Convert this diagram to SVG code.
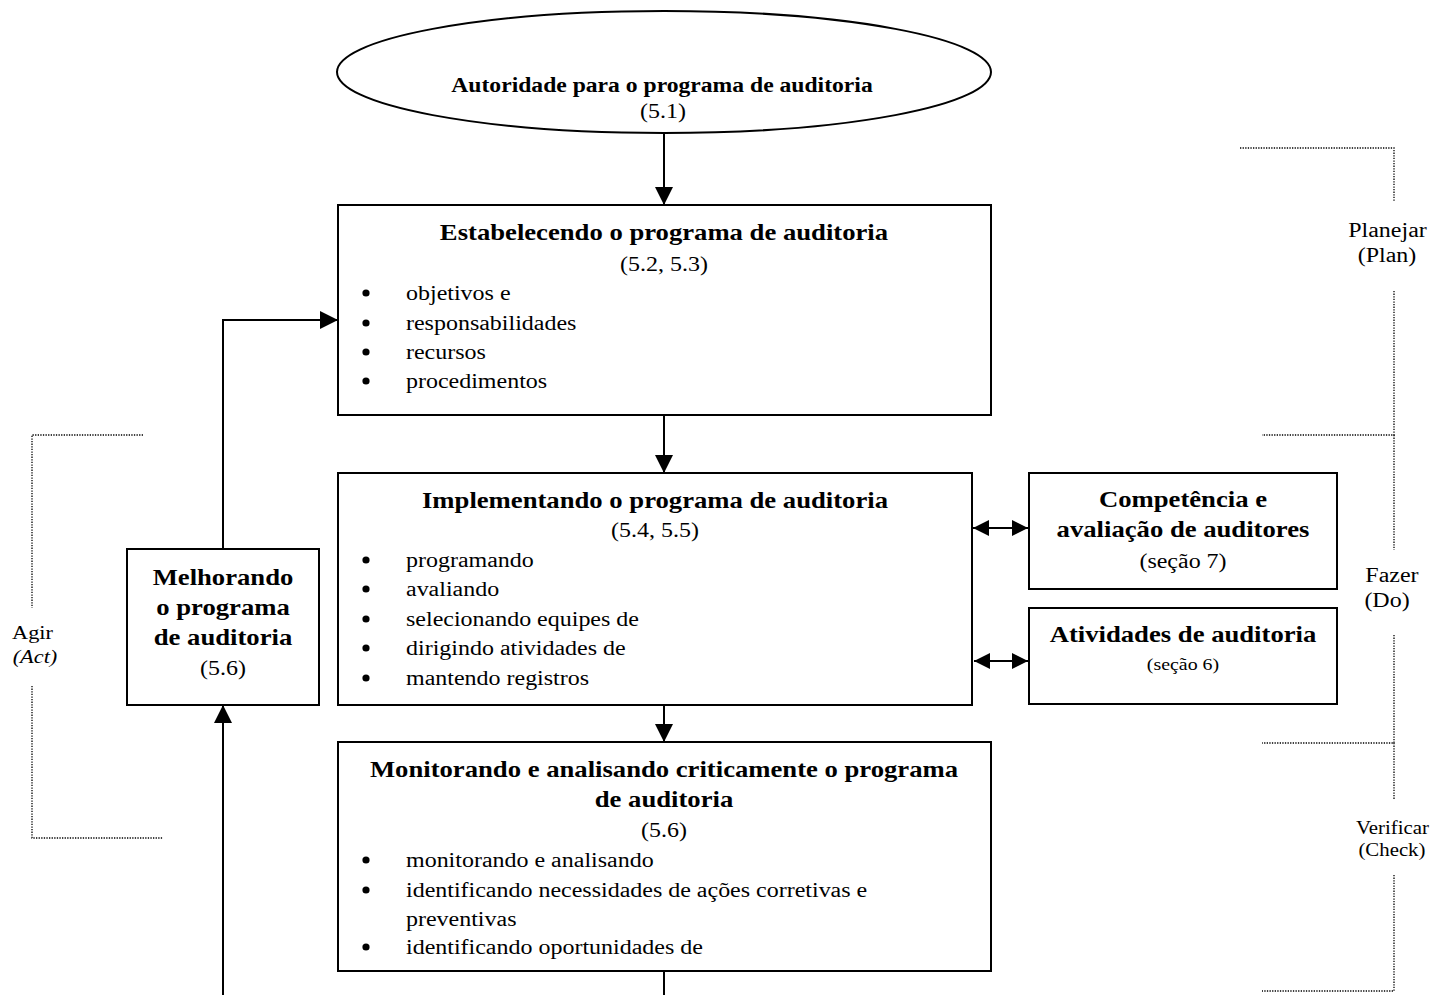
<svg xmlns="http://www.w3.org/2000/svg" width="1431" height="995" viewBox="0 0 1431 995">
<defs>
<style>
text{font-family:"Liberation Serif","Times New Roman",serif;fill:#000}
.t{font-size:22.8px;font-weight:bold;text-anchor:middle}
.s{font-size:20.5px;text-anchor:middle}
.b{font-size:20.5px}
.box{fill:#fff;stroke:#000;stroke-width:2}
.ln{fill:none;stroke:#000;stroke-width:2}
.dot{fill:none;stroke:#000;stroke-width:1.3;stroke-dasharray:1.3 1.3}
.lab{font-size:20.5px;text-anchor:middle}
.bu{fill:#000}
</style>
<marker id="big" viewBox="0 0 10 10" refX="10" refY="5" markerWidth="20" markerHeight="18" markerUnits="userSpaceOnUse" orient="auto-start-reverse"><path d="M0,0 L10,5 L0,10 Z" fill="#000"/></marker>
<marker id="dbl" viewBox="0 0 10 10" refX="10" refY="5" markerWidth="16" markerHeight="18" markerUnits="userSpaceOnUse" orient="auto-start-reverse"><path d="M0,0 L10,5 L0,10 Z" fill="#000"/></marker>
</defs>
<rect width="1431" height="995" fill="#fff"/>

<g id="connectors">
<line class="ln" x1="664" y1="133" x2="664" y2="205" marker-end="url(#big)"/>
<line class="ln" x1="664" y1="415" x2="664" y2="473" marker-end="url(#big)"/>
<line class="ln" x1="664" y1="705" x2="664" y2="742" marker-end="url(#big)"/>
<line class="ln" x1="664" y1="971" x2="664" y2="995"/>
<polyline class="ln" points="223,549 223,320 338,320" marker-end="url(#big)"/>
<line class="ln" x1="223" y1="995" x2="223" y2="705" marker-end="url(#big)"/>
<line class="ln" x1="973" y1="528" x2="1028" y2="528" marker-start="url(#dbl)" marker-end="url(#dbl)"/>
<line class="ln" x1="974" y1="661" x2="1028" y2="661" marker-start="url(#dbl)" marker-end="url(#dbl)"/>
</g>

<g id="authority">
<ellipse class="box" cx="664" cy="72" rx="327" ry="61"/>
<g transform="scale(1.17,1)">
<text x="565.81" y="92" style="font-size:20.2px;font-weight:bold;text-anchor:middle">Autoridade para o programa de auditoria</text>
<text x="566.67" y="118" class="s">(5.1)</text>
</g>
</g>

<g id="establish">
<rect class="box" x="338" y="205" width="653" height="210"/>
<g class="bu">
<circle cx="366" cy="293" r="3.6"/><circle cx="366" cy="323" r="3.6"/><circle cx="366" cy="352" r="3.6"/><circle cx="366" cy="381" r="3.6"/>
</g>
<g transform="scale(1.17,1)">
<text x="567.52" y="240" class="t">Estabelecendo o programa de auditoria</text>
<text x="567.52" y="271" class="s">(5.2, 5.3)</text>
<g class="b">
<text x="347.01" y="300">objetivos e</text>
<text x="347.01" y="330">responsabilidades</text>
<text x="347.01" y="359">recursos</text>
<text x="347.01" y="388">procedimentos</text>
</g>
</g>
</g>

<g id="implement">
<rect class="box" x="338" y="473" width="634" height="232"/>
<g class="bu">
<circle cx="366" cy="560" r="3.6"/><circle cx="366" cy="589" r="3.6"/><circle cx="366" cy="619" r="3.6"/><circle cx="366" cy="648" r="3.6"/><circle cx="366" cy="678" r="3.6"/>
</g>
<g transform="scale(1.17,1)">
<text x="559.83" y="508" class="t">Implementando o programa de auditoria</text>
<text x="559.83" y="537" class="s">(5.4, 5.5)</text>
<g class="b">
<text x="347.01" y="567">programando</text>
<text x="347.01" y="596">avaliando</text>
<text x="347.01" y="626">selecionando equipes de</text>
<text x="347.01" y="655">dirigindo atividades de</text>
<text x="347.01" y="685">mantendo registros</text>
</g>
</g>
</g>

<g id="monitor">
<rect class="box" x="338" y="742" width="653" height="229"/>
<g class="bu">
<circle cx="366" cy="860" r="3.6"/><circle cx="366" cy="890" r="3.6"/><circle cx="366" cy="947" r="3.6"/>
</g>
<g transform="scale(1.17,1)">
<text x="567.52" y="777" class="t">Monitorando e analisando criticamente o programa</text>
<text x="567.52" y="807" class="t">de auditoria</text>
<text x="567.52" y="837" class="s">(5.6)</text>
<g class="b">
<text x="347.01" y="867">monitorando e analisando</text>
<text x="347.01" y="897">identificando necessidades de ações corretivas e</text>
<text x="347.01" y="926">preventivas</text>
<text x="347.01" y="954">identificando oportunidades de</text>
</g>
</g>
</g>

<g id="improve">
<rect class="box" x="127" y="549" width="192" height="156"/>
<g transform="scale(1.17,1)">
<text x="190.6" y="585" class="t">Melhorando</text>
<text x="190.6" y="615" class="t">o programa</text>
<text x="190.6" y="645" class="t">de auditoria</text>
<text x="190.6" y="675" class="s">(5.6)</text>
</g>
</g>

<g id="competence">
<rect class="box" x="1029" y="473" width="308" height="116"/>
<g transform="scale(1.17,1)">
<text x="1011.11" y="507" class="t">Competência e</text>
<text x="1011.11" y="537" class="t">avaliação de auditores</text>
<text x="1011.11" y="568" class="s">(seção 7)</text>
</g>
</g>

<g id="activities">
<rect class="box" x="1029" y="608" width="308" height="96"/>
<g transform="scale(1.17,1)">
<text x="1011.11" y="642" class="t">Atividades de auditoria</text>
<text x="1011.11" y="670" style="font-size:17px;text-anchor:middle">(seção 6)</text>
</g>
</g>

<g id="pdca">
<polyline class="dot" points="1240,148 1394,148 1394,202"/>
<polyline class="dot" points="1394,291 1394,435 1262,435"/>
<line class="dot" x1="1394" y1="435" x2="1394" y2="550"/>
<polyline class="dot" points="1394,635 1394,743 1262,743"/>
<line class="dot" x1="1394" y1="743" x2="1394" y2="799"/>
<polyline class="dot" points="1394,875 1394,991 1262,991"/>
<polyline class="dot" points="143,435 32,435 32,608"/>
<polyline class="dot" points="32,686 32,838 163,838"/>
<g transform="scale(1.17,1)">
<text x="1185.9" y="237" class="lab">Planejar</text>
<text x="1185.5" y="262" class="lab">(Plan)</text>
<text x="1189.7" y="582" class="lab">Fazer</text>
<text x="1185.5" y="607" class="lab">(Do)</text>
<text x="1190.2" y="834" style="font-size:17.8px;text-anchor:middle">Verificar</text>
<text x="1189.7" y="856" style="font-size:17.8px;text-anchor:middle">(Check)</text>
<text x="27.8" y="639" style="font-size:19.1px;text-anchor:middle">Agir</text>
<text x="29.9" y="663" style="font-size:19.1px;text-anchor:middle;font-style:italic">(Act)</text>
</g>
</g>
</svg>
